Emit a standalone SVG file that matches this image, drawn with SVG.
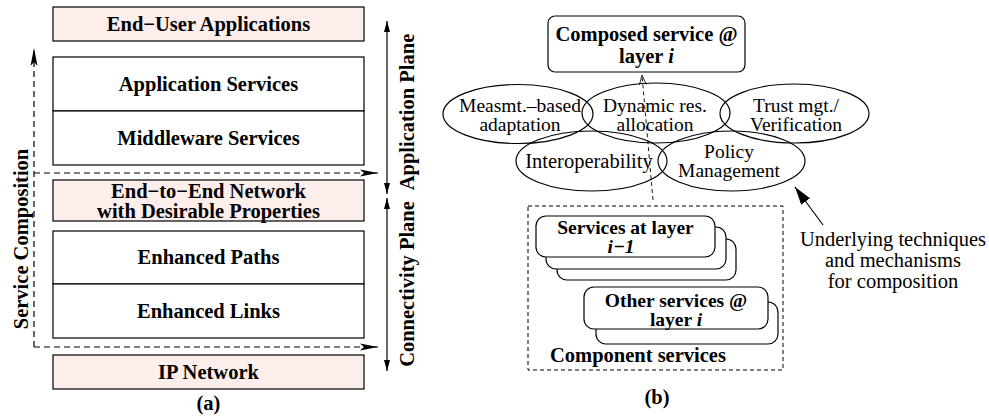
<svg xmlns="http://www.w3.org/2000/svg" width="989" height="420" viewBox="0 0 989 420">
<style>
.box{fill:#fff;stroke:#000;stroke-width:1.2}
.pink{fill:#fdeeec;stroke:#000;stroke-width:1.2}
.ell{fill:none;stroke:#000;stroke-width:1.2}
.t{font-family:'Liberation Serif','Times New Roman',Times,'DejaVu Serif',serif;font-size:20.5px;text-anchor:middle;fill:#000}
.s{font-size:19.5px}
.b{font-weight:bold}
.dash{fill:none;stroke:#000;stroke-width:1.2;stroke-dasharray:6,4}
.ln{fill:none;stroke:#000;stroke-width:1.2}
</style>
<defs>
<marker id="ah" markerUnits="userSpaceOnUse" markerWidth="20" markerHeight="10" refX="18" refY="5" orient="auto"><path d="M0,1.5 L18,5 L0,8.5 L4,5 Z" fill="#000"/></marker>
<marker id="ap" markerUnits="userSpaceOnUse" markerWidth="12" markerHeight="8" refX="11" refY="4" orient="auto"><path d="M0,1 L11,4 L0,7 Z" fill="#000"/></marker>
<marker id="ao" markerUnits="userSpaceOnUse" markerWidth="12" markerHeight="8" refX="10" refY="4" orient="auto"><path d="M0,0.5 L10,4 L0,7.5" fill="none" stroke="#000" stroke-width="0.8"/></marker>
<marker id="af" markerUnits="userSpaceOnUse" markerWidth="20" markerHeight="12" refX="18" refY="6" orient="auto"><path d="M0,0.5 L18,6 L0,11.5 Z" fill="#000"/></marker>
</defs>

<g id="end-user-applications"><rect class="pink" x="53" y="7" width="311" height="34"/><text class="t b" x="208.5" y="31">End−User Applications</text></g>
<g id="application-services"><rect class="box" x="53" y="57" width="311" height="54"/><text class="t b" x="208.5" y="91">Application Services</text></g>
<g id="middleware-services"><rect class="box" x="53" y="111" width="311" height="54"/><text class="t b" x="208.5" y="145">Middleware Services</text></g>
<g id="end-to-end-network"><rect class="pink" x="53" y="180" width="311" height="41"/><text class="t b" x="208.5" y="198">End−to−End Network</text><text class="t b" x="208.5" y="218">with Desirable Properties</text></g>
<g id="enhanced-paths"><rect class="box" x="53" y="231" width="311" height="53"/><text class="t b" x="208.5" y="264">Enhanced Paths</text></g>
<g id="enhanced-links"><rect class="box" x="53" y="284" width="311" height="54"/><text class="t b" x="208.5" y="318">Enhanced Links</text></g>
<g id="ip-network"><rect class="pink" x="53" y="355" width="311" height="34"/><text class="t b" x="208.5" y="379">IP Network</text></g>
<text class="t b" x="208.5" y="410">(a)</text>

<g id="plane-labels">
<text class="t b" transform="translate(414,112) rotate(-90)">Application Plane</text>
<text class="t b" transform="translate(414,284) rotate(-90)">Connectivity Plane</text>
<text class="t b" transform="translate(28,239) rotate(-90)">Service Composition</text>
</g>

<g id="composed-service"><rect class="box" x="548" y="16" width="197" height="56" rx="7"/><text class="t b" x="646.5" y="41">Composed service @</text><text class="t b" x="646.5" y="63">layer <tspan font-style="italic">i</tspan></text></g>

<g id="measmt"><ellipse class="ell" cx="518" cy="114" rx="75" ry="29.5"/><text class="t s" x="520" y="112">Measmt.–based</text><text class="t s" x="520" y="131">adaptation</text></g>
<g id="dynamic"><ellipse class="ell" cx="656" cy="113" rx="74" ry="30"/><text class="t s" x="655" y="112">Dynamic res.</text><text class="t s" x="655" y="131">allocation</text></g>
<g id="trust"><ellipse class="ell" cx="794.5" cy="113.5" rx="74.5" ry="29.5"/><text class="t s" x="796" y="112">Trust mgt./</text><text class="t s" x="796" y="131">Verification</text></g>
<g id="interop"><ellipse class="ell" cx="591.5" cy="161" rx="75.5" ry="30"/><text class="t" x="589" y="168">Interoperability</text></g>
<g id="policy"><ellipse class="ell" cx="731.5" cy="161" rx="73.5" ry="30"/><text class="t s" x="729" y="158">Policy</text><text class="t s" x="729" y="177">Management</text></g>

<g id="component-services"><rect class="dash" x="528" y="206" width="255" height="164" style="stroke-dasharray:4,3;stroke-width:1"/><text class="t b" x="550" y="362" style="text-anchor:start">Component services</text></g>
<g id="services-layer-i-1">
<rect class="box" x="557" y="239" width="179" height="41" rx="10"/>
<rect class="box" x="546" y="227" width="180" height="42" rx="10"/>
<rect class="box" x="536" y="216" width="179" height="41" rx="10"/>
<text class="t b s" x="625.5" y="234">Services at layer</text><text class="t b s" x="621" y="253" font-style="italic">i−1</text>
</g>
<g id="other-services">
<rect class="box" x="596" y="302" width="182" height="42" rx="10"/>
<rect class="box" x="584" y="287" width="184" height="42" rx="10"/>
<text class="t b s" x="676" y="307">Other services @</text><text class="t b s" x="676" y="326">layer <tspan font-style="italic">i</tspan></text>
</g>
<text class="t b" x="657" y="404">(b)</text>

<g id="underlying"><text class="t" x="893" y="246">Underlying techniques</text><text class="t" x="893" y="267">and mechanisms</text><text class="t" x="893" y="288">for composition</text></g>

<g id="connectors">
<path class="dash" d="M34,347 L34,48" marker-end="url(#ah)"/>
<path class="dash" d="M34,173 L378,173" marker-end="url(#ah)"/>
<path class="dash" d="M34,347 L378,347" marker-end="url(#ah)"/>
<path class="ln" d="M387,108 L387,21" marker-end="url(#ap)"/>
<path class="ln" d="M387,108 L387,194" marker-end="url(#ap)"/>
<path class="ln" d="M387,285 L387,198" marker-end="url(#ap)"/>
<path class="ln" d="M387,285 L387,371" marker-end="url(#ap)"/>
<path class="ln" d="M653,200 L642,75" style="stroke-dasharray:4,3;stroke-width:0.9" marker-end="url(#ao)"/>
<path class="ln" d="M823,225 L795,187" marker-end="url(#af)"/>
</g>
</svg>
